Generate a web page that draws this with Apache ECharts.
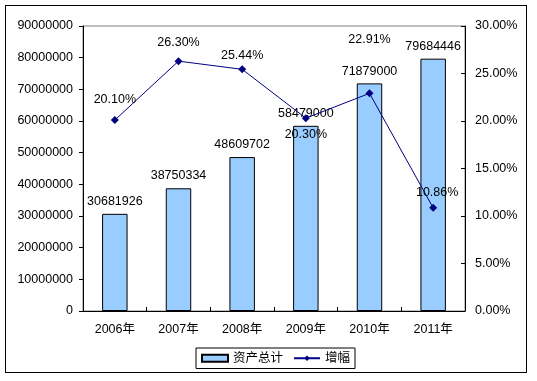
<!DOCTYPE html>
<html><head><meta charset="utf-8">
<script src="https://cdn.jsdelivr.net/npm/echarts@6/dist/echarts.min.js"></script>
<style>html,body{margin:0;padding:0;background:#fff}#c{width:537px;height:381px}
#frame{position:absolute;left:5px;top:5px;width:522px;height:368px;border:1px solid #000;box-sizing:border-box;pointer-events:none}</style>
</head><body>
<div id="c"></div><div id="frame"></div>
<script>
const categories = ['2006年','2007年','2008年','2009年','2010年','2011年'];
const assets = [30681926, 38750334, 48609702, 58479000, 71879000, 79684446];
const growth = [20.10, 26.30, 25.44, 20.30, 22.91, 10.86];
const leftTicks = [0, 90000000, 10000000];
const rightTicks = [0, 30, 5];

const font = "'Liberation Sans','Noto Sans CJK SC',sans-serif";
const fs = 12.5;
const lineLabelPos = [
  {position:'top', distance:10},
  {position:'top', distance:8},
  {position:'top', distance:4},
  {position:'bottom', distance:6},
  {position:'top', distance:44},
  {position:'top', distance:5, offset:[4,0]}
];
const chart = echarts.init(document.getElementById('c'));
chart.setOption({
  animation:false,
  textStyle:{fontFamily:font, fontSize:fs, color:'#000'},
  grid:{left:83, top:26, right:72, bottom:70, show:true, borderColor:'#808080', borderWidth:1, backgroundColor:'transparent'},
  legend:{
    left:196, top:348, itemWidth:26, itemHeight:7, itemGap:10,
    borderColor:'#000', borderWidth:1, padding:[4,5,4,5],
    textStyle:{fontFamily:font, fontSize:fs, color:'#000'},
    data:[{name:'资产总计', icon:'rect'}, {name:'增幅'}]
  },
  xAxis:{
    type:'category', data:categories,
    axisLine:{lineStyle:{color:'#000'}},
    axisTick:{show:true, inside:true, length:4, lineStyle:{color:'#000'}},
    axisLabel:{color:'#000', fontFamily:font, fontSize:fs, margin:12}
  },
  yAxis:[
    {type:'value', min:leftTicks[0], max:leftTicks[1], interval:leftTicks[2],
     axisLine:{show:true, lineStyle:{color:'#000'}},
     axisTick:{show:true, length:4, lineStyle:{color:'#000'}},
     splitLine:{show:false},
     axisLabel:{color:'#000', fontFamily:font, fontSize:fs, margin:10, formatter:v=>String(v)}},
    {type:'value', min:rightTicks[0], max:rightTicks[1], interval:rightTicks[2],
     axisLine:{show:true, lineStyle:{color:'#000'}},
     axisTick:{show:true, inside:true, length:4, lineStyle:{color:'#000'}},
     splitLine:{show:false},
     axisLabel:{color:'#000', fontFamily:font, fontSize:fs, margin:10,
       formatter:v=>v.toFixed(2)+'%'}}
  ],
  series:[
    {name:'资产总计', type:'bar', data:assets, barWidth:'40%', yAxisIndex:0,
     itemStyle:{color:'#99CCFF', borderColor:'#000', borderWidth:1},
     label:{show:true, position:'top', distance:6, color:'#000', fontFamily:font, fontSize:fs}},
    {name:'增幅', type:'line', yAxisIndex:1, z:5,
     data:growth.map((v,i)=>({value:v, label:lineLabelPos[i]})),
     symbol:'diamond', symbolSize:8,
     lineStyle:{color:'#000080', width:1},
     itemStyle:{color:'#000080'},
     label:{show:true, color:'#000', fontFamily:font, fontSize:fs,
       formatter:p=>p.value.toFixed(2)+'%'}}
  ]
});
</script>
</body></html>
